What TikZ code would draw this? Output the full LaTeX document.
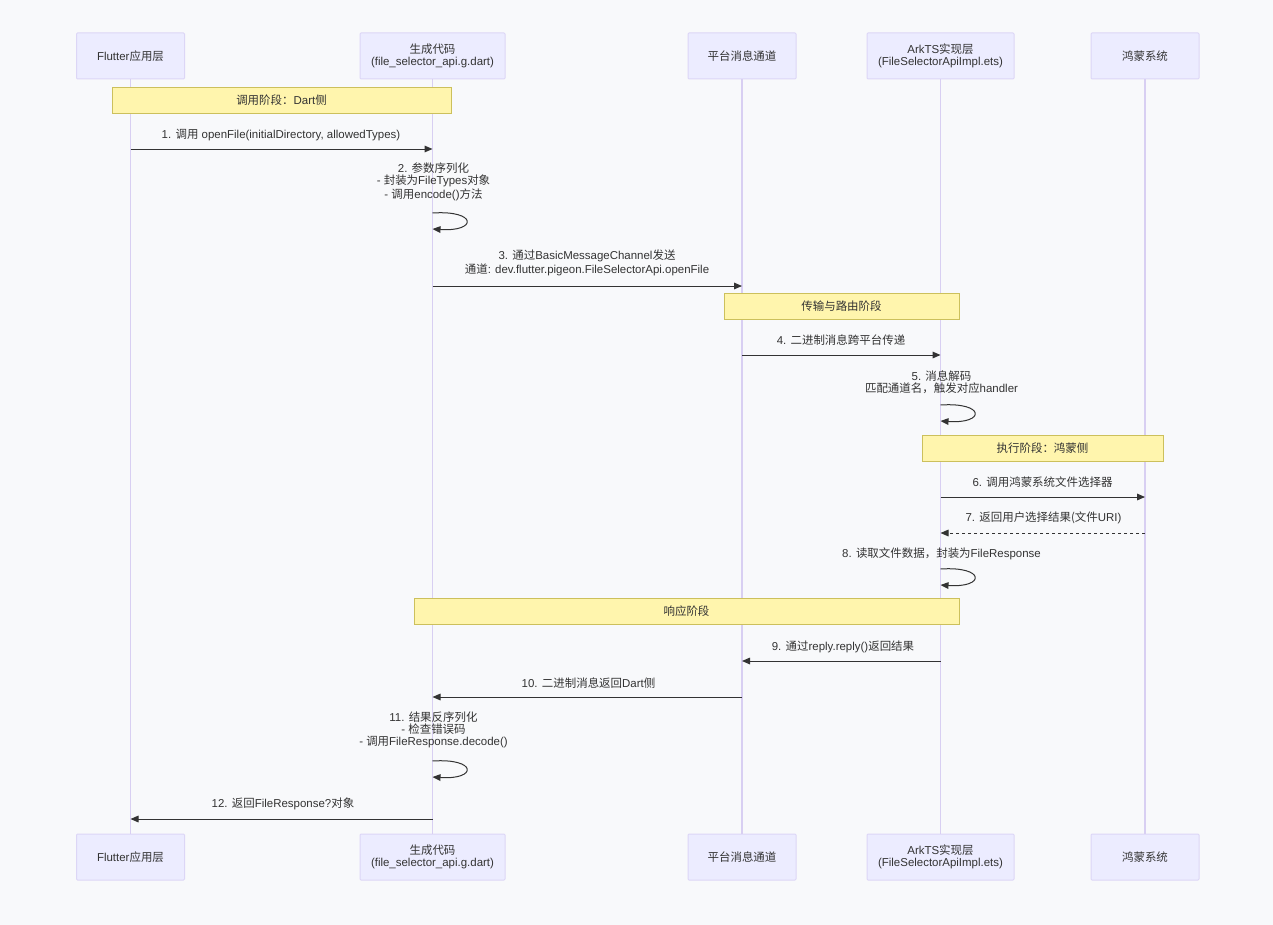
\documentclass[tikz,border=0pt]{standalone}
\usepackage{fontspec}
\setmainfont{Liberation Sans}
\newfontfamily\cjk{Noto Sans CJK SC}
\newcommand\zh[1]{{\cjk #1}}
\usetikzlibrary{arrows.meta}
\newlength\pxu
\setlength\pxu{0.75pt}
\definecolor{bgc}{HTML}{F8F9FB}
\definecolor{actfill}{HTML}{ECECFF}
\definecolor{actdraw}{HTML}{DCD6F6}
\definecolor{lifec}{HTML}{D8CFF2}
\definecolor{notefill}{HTML}{FFF5AD}
\definecolor{notedraw}{HTML}{CCC05C}
\definecolor{txt}{HTML}{333333}
\tikzset{
  actor/.style={draw=actdraw, fill=actfill, line width=1\pxu, minimum height=46\pxu, inner sep=0pt, align=center, text=txt, rounded corners=1\pxu},
  life/.style={draw=lifec, line width=1.5\pxu},
  notebox/.style={draw=notedraw, fill=notefill, line width=1\pxu, minimum height=26\pxu, inner sep=0pt, text=txt},
  msg/.style={draw=txt, line width=1\pxu, -{Triangle[length=6pt,width=5pt]}},
  ret/.style={msg, dash pattern=on 2.25pt off 2.25pt},
  lbl/.style={inner sep=0pt, align=center, text=txt}
}
\begin{document}
\begin{tikzpicture}[x=0.75pt,y=-0.75pt, font=\fontsize{8.6}{9}\selectfont]
\useasboundingbox (0,0) rectangle (1273,924);
\fill[bgc] (-10,-10) rectangle (1283,934);

% actors top
\node[actor, minimum width=108\pxu] (t1) at (130.5,56) {Flutter\zh{应用层}};
\node[actor, minimum width=145\pxu] (t2) at (432.5,56) {\zh{生成代码}\\(file\_selector\_api.g.dart)};
\node[actor, minimum width=108\pxu] (t3) at (742,56) {\zh{平台消息通道}};
\node[actor, minimum width=147\pxu] (t4) at (940.5,56) {ArkTS\zh{实现层}\\(FileSelectorApiImpl.ets)};
\node[actor, minimum width=108\pxu] (t5) at (1145,56) {\zh{鸿蒙系统}};
% actors bottom
\node[actor, minimum width=108\pxu] (b1) at (130.5,857) {Flutter\zh{应用层}};
\node[actor, minimum width=145\pxu] (b2) at (432.5,857) {\zh{生成代码}\\(file\_selector\_api.g.dart)};
\node[actor, minimum width=108\pxu] (b3) at (742,857) {\zh{平台消息通道}};
\node[actor, minimum width=147\pxu] (b4) at (940.5,857) {ArkTS\zh{实现层}\\(FileSelectorApiImpl.ets)};
\node[actor, minimum width=108\pxu] (b5) at (1145,857) {\zh{鸿蒙系统}};

% lifelines
\foreach \i in {1,...,5} { \draw[life] (t\i) -- (b\i); }

% notes
\node[notebox, minimum width=339\pxu] (n1) at (281.5,100) {\zh{调用阶段：}Dart\zh{侧}};
\node[notebox, minimum width=235\pxu] (n2) at (841.5,306.5) {\zh{传输与路由阶段}};
\node[notebox, minimum width=241\pxu] (n3) at (1042.5,448) {\zh{执行阶段：鸿蒙侧}};
\node[notebox, minimum width=545\pxu] (n4) at (686.5,611.5) {\zh{响应阶段}};

% coordinates
\coordinate (m1a) at (130.5,149);  \coordinate (m1b) at (432.5,149);
\coordinate (s2a) at (432.5,213);  \coordinate (s2b) at (432.5,229);
\coordinate (m3a) at (432.5,286);  \coordinate (m3b) at (742,286);
\coordinate (m4a) at (742,355);    \coordinate (m4b) at (940.5,355);
\coordinate (s5a) at (940.5,405);  \coordinate (s5b) at (940.5,421);
\coordinate (m6a) at (940.5,497);  \coordinate (m6b) at (1145,497);
\coordinate (m7a) at (1145,533);   \coordinate (m7b) at (940.5,533);
\coordinate (s8a) at (940.5,569);  \coordinate (s8b) at (940.5,585);
\coordinate (m9a) at (940.5,661);  \coordinate (m9b) at (742,661);
\coordinate (m10a) at (742,697);   \coordinate (m10b) at (432.5,697);
\coordinate (s11a) at (432.5,761); \coordinate (s11b) at (432.5,777);
\coordinate (m12a) at (432.5,819); \coordinate (m12b) at (130.5,819);

% messages
\draw[msg] (m1a) -- (m1b);
\node[lbl] (l1) at (281,135) {1. \zh{调用} openFile(initialDirectory, allowedTypes)};

\draw[msg] (s2a) .. controls +(45,-3) and +(45,3) .. (s2b);
\node[lbl] (l2) at (433.5,182) {2. \zh{参数序列化}\\- \zh{封装为}FileTypes\zh{对象}\\- \zh{调用}encode()\zh{方法}};

\draw[msg] (m3a) -- (m3b);
\node[lbl] (l3) at (587,263) {3. \zh{通过}BasicMessageChannel\zh{发送}\\\zh{通道}: dev.flutter.pigeon.FileSelectorApi.openFile};

\draw[msg] (m4a) -- (m4b);
\node[lbl] (l4) at (841,340) {4. \zh{二进制消息跨平台传递}};

\draw[msg] (s5a) .. controls +(45,-3) and +(45,3) .. (s5b);
\node[lbl] (l5) at (941.5,382) {5. \zh{消息解码}\\\zh{匹配通道名，触发对应}handler};

\draw[msg] (m6a) -- (m6b);
\node[lbl] (l6) at (1042.5,482) {6. \zh{调用鸿蒙系统文件选择器}};

\draw[ret] (m7a) -- (m7b);
\node[lbl] (l7) at (1043.5,518) {7. \zh{返回用户选择结果(文件}URI)};

\draw[msg] (s8a) .. controls +(45,-3) and +(45,3) .. (s8b);
\node[lbl] (l8) at (941.5,554) {8. \zh{读取文件数据，封装为}FileResponse};

\draw[msg] (m9a) -- (m9b);
\node[lbl] (l9) at (843,647) {9. \zh{通过}reply.reply()\zh{返回结果}};

\draw[msg] (m10a) -- (m10b);
\node[lbl] (l10) at (588.5,683) {10. \zh{二进制消息返回}Dart\zh{侧}};

\draw[msg] (s11a) .. controls +(45,-3) and +(45,3) .. (s11b);
\node[lbl] (l11) at (433.5,730) {11. \zh{结果反序列化}\\- \zh{检查错误码}\\- \zh{调用}FileResponse.decode()};

\draw[msg] (m12a) -- (m12b);
\node[lbl] (l12) at (283,804) {12. \zh{返回}FileResponse?\zh{对象}};
\end{tikzpicture}
\end{document}
